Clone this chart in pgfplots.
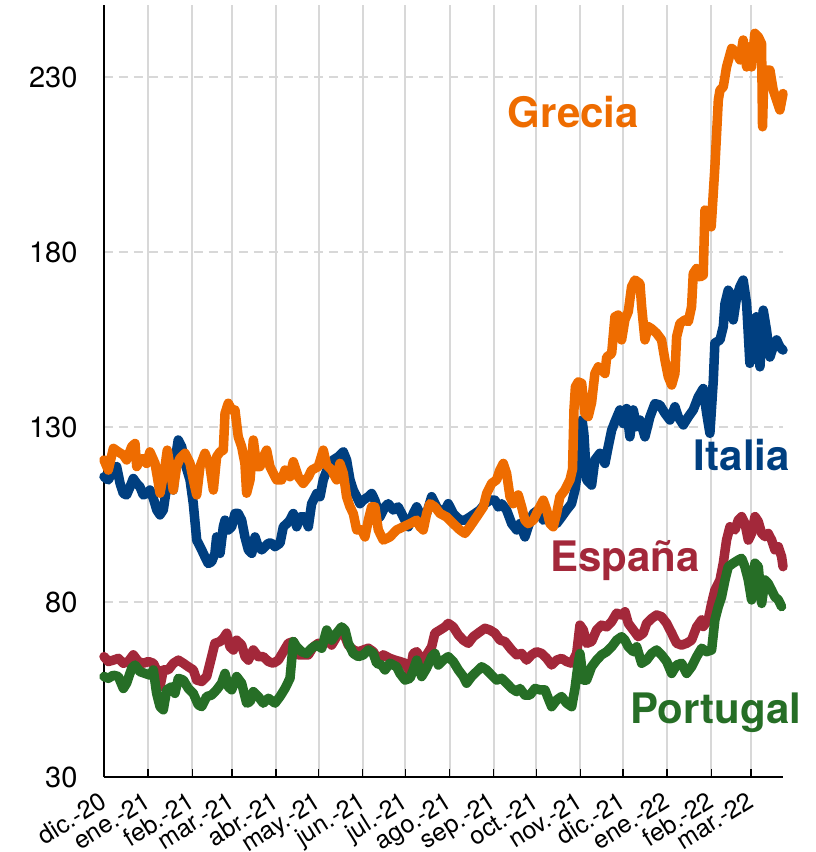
\documentclass[border=0pt]{standalone}
\usepackage{pgfplots}
\pgfplotsset{compat=1.18}
\usepackage{fontspec}
\setmainfont{TeX Gyre Heros}
\definecolor{cGR}{RGB}{238,108,0}
\definecolor{cIT}{RGB}{0,63,128}
\definecolor{cES}{RGB}{163,40,58}
\definecolor{cPT}{RGB}{38,110,38}
\definecolor{cGrid}{RGB}{216,216,216}
\begin{document}
\begin{tikzpicture}
\useasboundingbox (-104pt,-75pt) rectangle (712pt,777pt);
\begin{axis}[
  at={(0pt,0pt)}, anchor=south west,
  scale only axis, width=679pt, height=772pt,
  xmin=0, xmax=477.5, ymin=30, ymax=250.6,
  axis x line*=bottom, axis y line*=left,
  axis line style={-, black, line width=1.4pt},
  xtick={0,31,62,90,121,151,182,212,243,274,304,335,365,396,427,455},
  xticklabels={dic.-20,ene.-21,feb.-21,mar.-21,abr.-21,may.-21,jun.-21,jul.-21,ago.-21,sep.-21,oct.-21,nov.-21,dic.-21,ene.-22,feb.-22,mar.-22},
  ytick={30,80,130,180,230},
  xtick style={black, line width=1.3pt},
  major tick length=8pt,
  ytick style={draw=none},
  tick align=inside,
  /pgf/number format/assume math mode=true,
  yticklabel style={font=\fontsize{29}{34}\selectfont, anchor=east, xshift=-23pt},
  xticklabel style={font=\fontsize{25}{29}\selectfont, anchor=north east, inner sep=1pt, xshift=-5pt, yshift=-12pt, rotate=32},
  xmajorgrids, ymajorgrids,
  x grid style={solid, cGrid, line width=2pt},
  y grid style={cGrid, line width=2pt, dash pattern=on 9pt off 6pt},
  every axis plot/.append style={line width=9.5pt, line join=round, line cap=round, no markers},
  clip=false,
]
% Italia
\addplot[cIT] coordinates {
(0,115.8)(3,114.9)(5.4,116.8)(8.9,118.7)(11.3,113.9)(13.6,111)(15.9,110.6)(18.3,112.9)(20.6,115.3)(23,113.9)
(25.3,112.9)(27.6,110.6)(30,111)(32.3,112)(34.7,109.6)(37.1,106.3)(39.4,104.9)(41.7,106.3)(44.1,112.9)(46.4,114.9)
(48.7,112)(51.1,123.4)(52.2,126.3)(54.6,124.4)(57,119.6)(60.5,114.9)(62.8,108.1)(65.2,97.7)(68.7,94.9)(71,92.9)
(73.3,91)(75.7,91.5)(78,93.9)(79.2,98.6)(81.6,93.9)(83.9,101.5)(85.1,103.4)(87.4,100.6)(89.8,101.5)(92.1,105.3)
(94.4,105.3)(96.8,103.4)(99.1,98.6)(101.5,94.9)(103.9,93.9)(106.2,98.6)(108.5,95.8)(110.9,94.9)(113.2,95.8)(115.5,96.8)
(117.9,96.8)(120.2,95.8)(123.8,96.8)(126.1,101.5)(128.5,102.4)(130.8,103.4)(133.1,105.3)(135.5,101.5)(137.8,104.3)(141.3,104.3)
(143.7,101.5)(146,108.1)(149.6,111)(151.9,110.1)(154.2,114.9)(157.7,118.7)(161.2,120.6)(164.7,121.5)(168.3,122.9)(170.6,120.6)
(173,114.9)(175.3,112)(177.7,110.1)(180,108.1)(182.3,109.1)(185.9,110.1)(188.2,111)(190.5,109.1)(194,104.3)(197.6,107.2)
(199.9,108.1)(203.4,106.3)(206.9,107.2)(210.5,104.3)(214,101.5)(217.5,105.3)(219.9,107.2)(223.4,104.3)(226.9,105.3)(230.4,110.1)
(233.9,107.2)(238.6,105.3)(242.1,108.1)(245.6,105.3)(250.3,103.4)(253.8,103.4)(257.3,104.3)(260.9,105.3)(264.4,106.3)(267.9,108.1)
(271.4,109.1)(274.9,109.1)(277.3,107.2)(279.6,108.1)(283.1,106.3)(286.7,102.4)(290.2,100.6)(292.5,102.4)(296,98.6)(298.3,101.5)
(301.9,105.3)(305.4,106.3)(308.9,103.4)(312.4,104.3)(315.9,103.4)(318.3,102.4)(321.8,104.3)(325.3,106.3)(328.8,108.1)(331.2,112)
(333.5,118.7)(335,128)(336.2,132)(337.5,128)(339.4,114.9)(342.9,113.4)(345.2,120.6)(348.7,122.5)(352.3,119.6)(354.6,124.4)
(357,129.1)(359.3,131.5)(362.8,134.9)(365.2,131)(367.5,135.3)(369.8,127.2)(372.2,134.9)(374.5,130.1)(376.9,132)(380.4,127.2)
(383.9,132.9)(387.4,136.7)(390.9,136.3)(394.5,133.9)(398,132)(401.5,135.8)(403.8,132.9)(407.4,130.6)(410.9,132.9)(414.4,134.9)
(417.9,138.6)(421.4,141)(423.8,133.9)(426.1,128.2)(428.5,143.4)(429.6,154)(433.2,154.9)(435.5,158.7)(436.7,165.3)(439,169.1)
(441.4,167.2)(442.5,160.6)(444.9,167.2)(447.2,170.1)(449.5,172)(451.9,165.3)(454.2,148.2)(456.6,160.6)(458.9,161.5)(461.3,147.2)
(463.6,163.4)(465.9,157.7)(468.3,150)(470.6,152.9)(473,154.9)(475.3,152.9)(477.5,152)
};
% Grecia
\addplot[cGR] coordinates {
(0,120.6)(3,117.7)(6.6,123.9)(10.1,122.9)(13.6,122)(15.9,120.6)(19.5,124.4)(21.8,125.3)(23,118.7)(25.3,120.6)
(27.6,121)(30,119.6)(32.3,122.9)(35.9,119.6)(39.4,111.1)(42.9,118.7)(44.5,123.4)(46.4,118.7)(48.7,112)(51.1,118.7)
(53.4,121)(57,122.5)(60.5,119.6)(62.8,114.9)(65.2,110.6)(67.5,118.7)(71,122.5)(74.5,118.7)(76.9,112)(79.2,121.5)
(81.6,122.9)(83.9,123.4)(85.1,133.9)(87.4,136.8)(89.8,134.9)(92.1,134.9)(94.4,127.2)(96.8,124.4)(99.1,119.6)(100.3,111.1)
(102.7,114.9)(105,126.3)(107.4,118.7)(109.7,118.7)(112,121.5)(114.4,123.4)(116.7,118.7)(121.4,114.9)(124.9,114.9)(127.3,117.7)
(130.8,115.8)(133.1,120.1)(136.6,115.8)(140.1,113.9)(143.7,115.8)(146,117.7)(150.7,118.7)(154.2,123.4)(156.6,119.1)(160.1,117.7)
(163.6,114.9)(165.9,119.6)(168.3,116.8)(170.6,110.1)(173,107.2)(175.3,105.3)(177.7,100.6)(181.2,100.6)(183.5,98.6)(185.9,103.4)
(188.2,107.2)(190.5,107.2)(192.9,100.6)(196.4,97.7)(201.1,98.6)(205.8,100.6)(210.5,101.5)(215.2,102.4)(219.9,103.4)(222.2,101.5)
(224.5,100.6)(226.9,105.3)(229.2,108.1)(232.7,107.2)(236.3,105.3)(241,104.3)(245.6,102.4)(250.3,100.6)(253.8,99.6)(257.3,101.5)
(262,104.3)(266.8,107.2)(269.1,111)(272.6,113.9)(276.1,114.9)(278.4,117.7)(280.8,119.6)(283.1,116.8)(285.5,110.1)(287.8,108.1)
(291.3,110.6)(293.7,107.2)(296,103.4)(298.3,102.4)(301.9,103.4)(305.4,106.3)(308.9,109.1)(311.3,106.3)(313.6,102.4)(315.9,101.5)
(318.3,105.3)(320.6,110.1)(324.1,112)(327.7,114.9)(329.5,118)(330.5,135)(331.5,141.5)(333.5,142.9)(335.9,142.5)(338.2,133.9)
(340.5,133)(342.9,137)(345.2,145.3)(347.6,147.2)(349.9,146.3)(352.3,145.3)(353.5,150)(357,151)(359.3,161.5)(361.6,162)
(364,154.9)(366.3,160.6)(368.7,163)(371,170.1)(373.4,172)(376.9,171)(378.1,164.4)(380.4,154.9)(382.7,158.7)(385.1,158.1)
(388.6,156.8)(392.1,154.9)(394.5,149.1)(396.8,144.4)(399.2,142)(401.5,145.3)(402.7,155.8)(405,159.6)(408.5,160.6)(410.9,160.1)
(413.2,164.4)(414.4,173.9)(416.7,175.3)(419.1,172.9)(421.4,173.4)(422.6,192)(424.5,190.6)(427,187.2)(429.6,204.3)(432,223.4)
(433.2,226.3)(435.5,227.2)(437.8,232.9)(441.4,238.2)(444.9,236.8)(447.2,234.9)(449.5,240.6)(451.9,232.9)(454.2,238.7)(455.4,232.9)
(457.7,242.5)(460.1,241.5)(462.4,239.6)(463.1,215.8)(464,230)(465.9,232)(468.3,232)(470.6,226.3)(473,223.4)(475.3,220.6)(477.5,225.3)
};
% Espana
\addplot[cES] coordinates {
(0,64.4)(3.05,63)(6.6,63.4)(10.1,63.9)(13.6,62.5)(17.1,63)(20.6,64.9)(24.1,63)(27.7,62.5)(31.2,63)
(34.7,62.5)(37,60.6)(39.4,55.8)(41.7,60.6)(45.2,60.6)(48.8,62.5)(52.3,63.4)(55.8,62.5)(59.3,61.5)(62.8,60.6)
(65.2,57.7)(68.7,57.3)(72.2,58.7)(75.7,64.4)(78,68.2)(81.6,68.7)(83.9,69.6)(86.3,71.1)(88.6,67.2)(91,66.3)
(93.3,69.1)(96.8,67.7)(99.2,64.4)(101.5,63.4)(105,66.3)(108.5,64.4)(112,64.4)(115.6,63)(119.1,62.5)(122.6,63.4)
(126.1,65.8)(129.6,68.2)(133.2,68.7)(136.7,64.9)(140.2,64.9)(143.7,64.9)(147.2,67.2)(150.7,68.2)(154.2,67.7)(156.6,70.1)
(160.1,67.7)(163.6,70.1)(167.1,71.5)(169.5,70.1)(171.8,67.7)(175.3,66.3)(178.8,65.8)(182.4,66.3)(185.9,66.8)(189.4,65.8)
(192.9,63.4)(196.4,64.9)(201.1,63.9)(204.6,63.4)(208.1,63)(211.7,62.5)(215.2,60.1)(217.5,65.3)(219.9,65.8)(223.4,63.4)
(226.9,64.9)(230.4,67.2)(232.7,71.1)(236.3,72)(239.8,72.9)(242.1,73.9)(245.6,72.9)(249.2,70.6)(252.7,69.1)(256.2,68.2)
(259.7,70.1)(264.4,71.5)(267.9,72.5)(271.4,72)(274.9,71.1)(278.5,69.1)(282,68.7)(286.7,66.3)(290.2,64.9)(293.7,65.3)
(297.2,63.4)(300.7,64.9)(304.2,65.8)(307.8,65.3)(311.3,63.9)(314.8,62)(318.3,63.4)(321.8,63.9)(325.3,63)(328.9,62.5)
(332.4,65.3)(334.7,73.4)(337.1,72)(339.4,68.2)(342.9,68.7)(346.4,72)(349.9,73.4)(353.5,72.9)(357,74.4)(360.5,76.8)
(364,76.3)(366.4,77.2)(368.7,73.9)(372.2,72)(375.7,70.1)(379.2,71.1)(381.6,73.9)(385.1,75.3)(388.6,76.3)(392.1,75.8)
(395.7,73.9)(399.2,71.1)(402.7,68.2)(406.2,67.7)(409.7,68.2)(413.2,69.1)(416.8,72.9)(420.3,74.9)(421.4,73)(424.9,74.9)
(427.3,79.6)(429.6,83.4)(433.2,86.3)(435.5,91.1)(437.8,97.7)(440.2,101.5)(443.7,100.6)(446,103.4)(448.4,104.4)(450.7,102.5)
(453.1,97.7)(455.4,99.6)(457.8,104.4)(460.1,103)(462.5,99.6)(464.8,98.7)(467.1,99.6)(469.5,97.7)(471.8,94.9)(474.2,95.8)
(476.5,93)(477.5,90.1)
};
% Portugal
\addplot[cPT] coordinates {
(0,58.7)(3.05,58.2)(6.6,59.1)(10.1,58.7)(13.6,55.3)(15.9,56.8)(19.5,61.1)(21.8,62)(25.3,60.1)(28.8,59.6)
(32.4,59.1)(34.7,60.6)(37,53.9)(39.4,50.1)(41.7,49.2)(44.1,54.9)(47.6,55.8)(49.9,53.9)(52.3,58.2)(55.8,57.7)
(59.3,55.3)(62.8,53.9)(66.3,50.6)(68.7,50.1)(72.2,53)(75.7,53.4)(79.2,54.9)(82.7,56.8)(85.1,59.6)(87.4,55.8)
(89.8,54.9)(93.3,58.7)(96.8,56.8)(100.3,51.1)(102.7,51.5)(105,54.4)(108.5,53)(112,51.1)(115.6,52.5)(120.3,51.1)
(123.8,53)(127.3,55.3)(130.8,58.2)(133.2,68.7)(135.5,67.2)(139,65.8)(142.5,65.3)(146,66.8)(149.6,67.7)(153.1,66.8)
(156.6,72)(160.1,69.1)(163.6,71.1)(167.1,72.9)(169.5,72)(171.8,68.2)(175.3,65.3)(178.8,64.4)(182.4,64.9)(185.9,66.3)
(189.4,65.3)(191.7,62.5)(195.2,62)(197.6,60.6)(201.1,62.5)(205.8,61.5)(208.1,59.6)(211.7,57.7)(215.2,58.2)(217.5,60.6)
(219.9,63.4)(223.4,58.7)(226.9,61.1)(230.4,64.4)(232.7,65.3)(235.1,62)(238.6,63.4)(242.1,64.4)(245.6,63)(249.2,60.6)
(252.7,58.7)(255,56.8)(258.5,58.7)(262,60.1)(265.6,61.5)(269.1,60.6)(272.6,59.1)(276.1,57.7)(279.6,58.2)(283.1,56.8)
(286.7,55.3)(290.2,54.4)(292.5,55.3)(296,53.4)(299.5,53.4)(303.1,55.3)(306.6,54.9)(310.1,54.9)(312.4,52.5)(314.8,50.1)
(318.3,52)(321.8,53)(325.3,51.1)(328.9,50.1)(331.2,55.3)(333.5,62.5)(334.7,65.3)(337.1,57.7)(339.4,57.7)(342.9,61.5)
(346.4,63.4)(349.9,64.9)(353.5,65.8)(357,67.2)(360.5,69.1)(364,70.1)(366.4,69.1)(368.7,67.2)(372.2,65.8)(374.6,67.2)
(378.1,62.5)(381.6,63.4)(385.1,65.3)(388.6,66.3)(392.1,64.9)(395.7,63)(399.2,59.6)(402.7,62)(406.2,62.5)(409.7,59.6)
(413.2,61.5)(416.8,64.4)(420.3,66.8)(423.8,65.8)(427.3,66.3)(429.6,74.9)(432,78.7)(434.3,81.5)(436.7,86.3)(439,90.1)
(442.5,91.1)(446,92)(448.4,92.5)(450.7,90.1)(453.1,86.3)(455.4,80.6)(457.8,91.1)(460.1,90.1)(462.5,79.6)(464.8,86.3)
(467.1,85.3)(469.5,83.4)(471.8,81.5)(474.2,80.6)(476.5,78.7)
};
\node[anchor=base, text=cGR, font=\fontsize{42}{50}\selectfont\bfseries] at (axis cs:330,215.7) {Grecia};
\node[anchor=base, text=cIT, font=\fontsize{42}{50}\selectfont\bfseries] at (axis cs:448.6,117.7) {Italia};
\node[anchor=base, text=cES, font=\fontsize{42}{50}\selectfont\bfseries] at (axis cs:366.3,88.6) {España};
\node[anchor=base, text=cPT, font=\fontsize{42}{50}\selectfont\bfseries] at (axis cs:430.3,45.4) {Portugal};
\end{axis}
\end{tikzpicture}
\end{document}
